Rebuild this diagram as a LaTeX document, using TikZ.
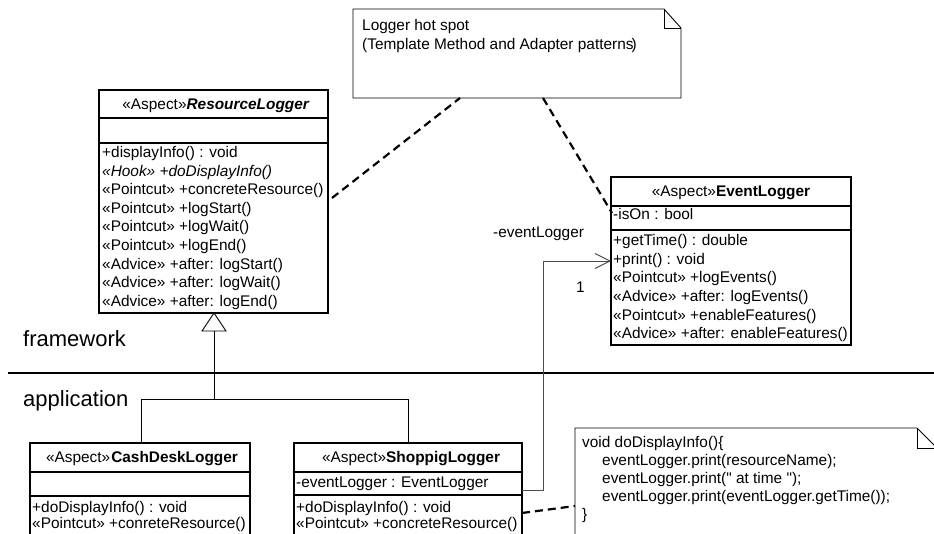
\documentclass[tikz,border=0pt]{standalone}
\usepackage{fontspec}
\setmainfont{Liberation Sans}
\newfontfamily\codefont{Liberation Sans}[Ligatures=TeXOff]
\usetikzlibrary{arrows.meta}
\newcommand{\txtfont}{\fontsize{15.4}{18}\selectfont}
\newcommand{\bigfont}{\fontsize{22}{26}\selectfont}
\begin{document}
\begin{tikzpicture}[x=1pt,y=-1pt,
  classbox/.style={draw, line width=1.1pt, fill=white, inner sep=0pt, outer sep=0pt, anchor=north west},
  sepline/.style={line width=1.1pt},
  item/.style={anchor=base west, inner sep=0pt, font=\txtfont},
  code/.style={anchor=base west, inner sep=0pt, font=\codefont\txtfont},
  ctitle/.style={anchor=base, inner sep=0pt, font=\txtfont},
  lbl/.style={anchor=base west, inner sep=0pt, font=\txtfont},
  layer/.style={anchor=base west, inner sep=0pt, font=\bigfont},
  gen/.style={line width=0.9pt},
  assoc/.style={line width=0.9pt, draw=black!70},
  anchorline/.style={line width=2.2pt, dash pattern=on 8pt off 5pt},
  notebox/.style={draw, line width=0.9pt, fill=white}
]
\useasboundingbox (0,0) rectangle (934,534);
\clip (0,0) rectangle (934,534);

% layer separator
\draw[line width=2pt] (8,373) -- (934,373);
\node[layer] (fw) at (23,347) {framework};
\node[layer] (app) at (23,406) {application};

% ---- ResourceLogger ----
\node[classbox, minimum width=229pt, minimum height=223pt] (rl) at (99,90) {};
\draw[sepline] (99,118) -- (328,118);
\draw[sepline] (99,143) -- (328,143);
\node[ctitle] (rlt) at (216,109.5) {«Aspect»\textbf{\textit{ResourceLogger}}};
\node[item] (rl1) at (102,157.5) {+displayInfo() : void};
\node[item] (rl2) at (102,176.1) {\itshape «Hook» +doDisplayInfo()};
\node[item] (rl3) at (102,194.7) {«Pointcut» +concreteResource()};
\node[item] (rl4) at (102,213.3) {«Pointcut» +logStart()};
\node[item] (rl5) at (102,231.9) {«Pointcut» +logWait()};
\node[item] (rl6) at (102,250.5) {«Pointcut» +logEnd()};
\node[item] (rl7) at (102,269.1) {«Advice» +after: logStart()};
\node[item] (rl8) at (102,287.7) {«Advice» +after: logWait()};
\node[item] (rl9) at (102,306.3) {«Advice» +after: logEnd()};

% ---- EventLogger ----
\node[classbox, minimum width=240pt, minimum height=168pt] (el) at (611,177) {};
\draw[sepline] (611,206) -- (851,206);
\draw[sepline] (611,230) -- (851,230);
\node[ctitle] (elt) at (731,197) {«Aspect»\textbf{EventLogger}};
\node[item] (ela) at (613,220) {-isOn : bool};
\node[item] (el1) at (613,245.5) {+getTime() : double};
\node[item] (el2) at (613,264.2) {+print() : void};
\node[item] (el3) at (613,282.9) {«Pointcut» +logEvents()};
\node[item] (el4) at (613,301.6) {«Advice» +after: logEvents()};
\node[item] (el5) at (613,320.3) {«Pointcut» +enableFeatures()};
\node[item] (el6) at (613,339) {«Advice» +after: enableFeatures()};

% ---- CashDeskLogger ----
\node[classbox, minimum width=220pt, minimum height=120pt] (cd) at (30,443) {};
\draw[sepline] (30,472) -- (250,472);
\draw[sepline] (30,496) -- (250,496);
\node[ctitle] (cdt) at (142,462) {«Aspect»\kern1pt\textbf{CashDeskLogger}};
\node[item] (cd1) at (32,512) {+doDisplayInfo() : void};
\node[item] (cd2) at (32,528) {«Pointcut» +conreteResource()};

% ---- ShoppigLogger ----
\node[classbox, minimum width=228pt, minimum height=120pt] (sl) at (294,443) {};
\draw[sepline] (294,472) -- (522,472);
\draw[sepline] (294,495) -- (522,495);
\node[ctitle] (slt) at (411,462) {«Aspect»\textbf{ShoppigLogger}};
\node[item] (sla) at (296,487) {-eventLogger : EventLogger};
\node[item] (sl1) at (296,512) {+doDisplayInfo() : void};
\node[item] (sl2) at (296,528) {«Pointcut» +concreteResource()};

% ---- generalization ----
\coordinate (tribase) at (214,331);
\coordinate (fork) at (214,399);
\draw[gen, fill=white] (rl.south -| tribase) -- (202,331) -- (226,331) -- cycle;
\draw[gen] (tribase) -- (fork);
\draw[gen] (fork) -| (141,443);
\draw[gen] (fork) -| (sl.north);

% ---- association ShoppigLogger -> EventLogger ----
\coordinate (as0) at (522,490);
\coordinate (as1) at (543,490);
\coordinate (as2) at (543,261);
\coordinate (as3) at (611,261);
\draw[assoc, -{Straight Barb[length=15pt,width=15pt]}] (as0) -- (as1) -- (as2) -- (as3);
\node[lbl] (role) at (493,238) {-eventLogger};
\node[lbl] (mult) at (576,293) {1};

% ---- notes ----
\draw[notebox] (353,9) -- (664,9) -- (681,28) -- (681,98) -- (353,98) -- cycle;
\draw[line width=0.9pt] (664,9) -- (664,28) -- (681,28);
\node[item] (n1a) at (362,31) {Logger hot spot};
\node[item] (n1b) at (362,49.5) {(Template Method and Adapter patterns\kern-2pt)};

\draw[notebox] (575,428) -- (917,428) -- (937,448) -- (937,570) -- (575,570) -- cycle;
\draw[line width=0.9pt] (917,428) -- (917,448) -- (937,448);
\node[code] (n2a) at (582,447.5) {void doDisplayInfo()\{};
\node[code] (n2b) at (602,465.5) {eventLogger.print(resourceName);};
\node[code] (n2c) at (602,483.5) {eventLogger.print(" at time ");};
\node[code] (n2d) at (602,501.5) {eventLogger.print(eventLogger.getTime());};
\node[code] (n2e) at (582,519.5) {\}};

% ---- note anchors ----
\draw[anchorline] (332,198) -- (460,98);
\draw[anchorline] (543,98) -- (612,213);
\draw[anchorline] (522,513) -- (575,506);
\end{tikzpicture}
\end{document}
